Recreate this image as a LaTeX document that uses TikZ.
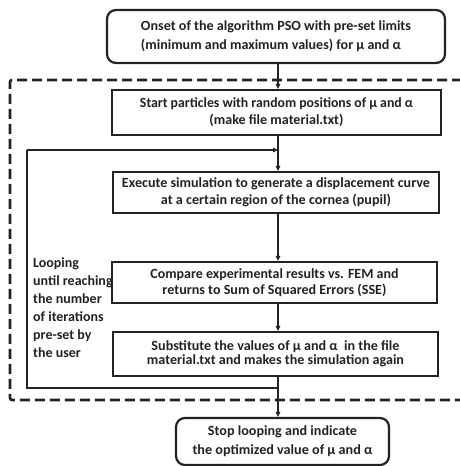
\documentclass[tikz,border=0pt]{standalone}
\usepackage{fontspec}
\usepackage{graphicx}
\setmainfont{Carlito}
\usetikzlibrary{arrows.meta}
\definecolor{ink}{HTML}{222222}
\newcommand\fitw[2]{\resizebox{#1}{\height}{#2}}
\newcommand\fs[1]{\bfseries\fontsize{14}{#1}\selectfont}
\begin{document}
\begin{tikzpicture}[x=1pt,y=-1pt,
  font=\fs{18},
  every node/.style={text=ink},
  rbox/.style={draw=ink,line width=2.2pt,rounded corners=9pt,inner sep=0pt,align=left},
  sbox/.style={draw=ink,line width=2.1pt,inner sep=0pt,align=center},
  conn/.style={draw=ink,line width=1.3pt},
  arr/.style={conn,-{Triangle[length=5pt,width=4.5pt]}},
  loopbox/.style={draw=ink,line width=2.6pt,dash pattern=on 10pt off 5pt,rounded corners=2pt}]
\useasboundingbox (0,0) rectangle (460,466);
\coordinate (col) at (278,0);
% dashed frame (right edge beyond picture)
\draw[loopbox] (462,80) -- (10,80) -- (10,400) -- (462,400);
\node[rbox,minimum width=338pt,minimum height=53pt,font=\fs{19}] (top) at (276,36.5)
  {\fitw{270pt}{Onset of the algorithm PSO with pre-set limits}\hspace{12pt}\\\fitw{260pt}{(minimum and maximum values) for µ and α}};
\node[sbox,minimum width=329pt,minimum height=45pt,font=\fs{17}] (b2) at (276.5,112.5)
  {\fitw{273pt}{Start particles with random positions of µ and α}\\\fitw{134pt}{(make file material.txt)}};
\node[sbox,minimum width=326pt,minimum height=41pt,font=\fs{17}] (b3) at (276,192.5)
  {\fitw{308pt}{Execute simulation to generate a displacement curve}\\\fitw{230pt}{at a certain region of the cornea (pupil)}};
\node[sbox,minimum width=325pt,minimum height=41pt,font=\fs{16}] (b4) at (274.5,282.5)
  {\fitw{248pt}{Compare experimental results vs. FEM and}\\\fitw{224pt}{returns to Sum of Squared Errors (SSE)}};
\node[sbox,minimum width=325pt,minimum height=44pt,font=\fs{14.5}] (b5) at (275.5,354)
  {\fitw{248pt}{Substitute the values of µ and α\ \ in the file}\\\fitw{257pt}{material.txt and makes the simulation again}};
\node[rbox,align=center,minimum width=213pt,minimum height=47pt,font=\fs{19}] (b6) at (282.5,441.5)
  {\fitw{149pt}{Stop looping and indicate}\\\fitw{180pt}{the optimized value of µ and α}};
\node[align=left,anchor=west,inner sep=0pt] (lbl) at (33,308)
  {Looping\\until reaching\\the number\\of iterations\\pre-set by\\the user};
\coordinate (Lt) at (27,150);
\coordinate (Lb) at (27,388);
\coordinate (J1) at (278,150);
\coordinate (J2) at (278,388);
\draw[arr] (top.south -| col) -- (b2.north -| col);
\draw[arr] (b2.south -| col) -- (b3.north -| col);
\draw[arr] (Lt) -- (J1);
\draw[arr] (b3.south -| col) -- (b4.north -| col);
\draw[arr] (b4.south -| col) -- (b5.north -| col);
\draw[arr] (b5.south -| col) -- (b6.north -| col);
\draw[conn] (J2) -- (Lb) -- (Lt);
\end{tikzpicture}
\end{document}
